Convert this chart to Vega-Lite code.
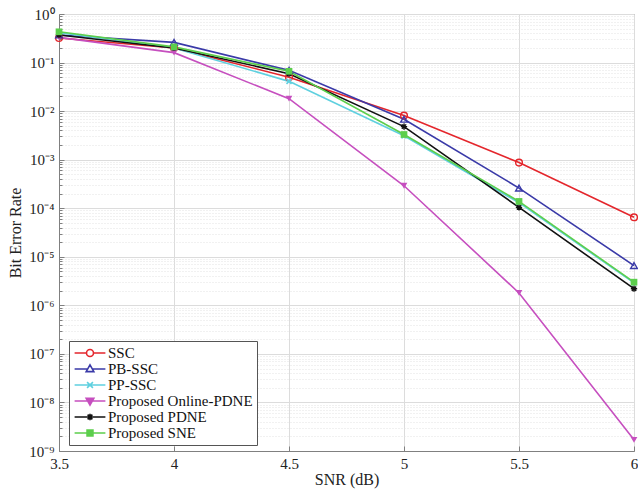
{
  "$schema": "https://vega.github.io/schema/vega-lite/v6.json",
  "autosize": "none",
  "width": 575,
  "height": 437,
  "padding": {"left": 59, "top": 14, "right": 4, "bottom": 38},
  "background": "white",
  "config": {
    "font": "Liberation Serif",
    "view": {"stroke": "#808080", "strokeWidth": 1},
    "axis": {"labelFont": "Liberation Serif", "titleFont": "Liberation Serif", "labelColor": "#222", "titleColor": "#222", "domainColor": "#808080", "tickColor": "#808080", "labelFontSize": 15, "titleFontSize": 16, "titleFontWeight": "normal"},
    "legend": {"labelFont": "Liberation Serif", "labelFontSize": 15}
  },
  "data": {"values": [
    {"snr": 3.5, "ber": 0.32, "series": "SSC"},
    {"snr": 4.0, "ber": 0.2, "series": "SSC"},
    {"snr": 4.5, "ber": 0.05, "series": "SSC"},
    {"snr": 5.0, "ber": 0.0081, "series": "SSC"},
    {"snr": 5.5, "ber": 0.00087, "series": "SSC"},
    {"snr": 6.0, "ber": 0.000065, "series": "SSC"},
    {"snr": 3.5, "ber": 0.37, "series": "PB-SSC"},
    {"snr": 4.0, "ber": 0.26, "series": "PB-SSC"},
    {"snr": 4.5, "ber": 0.069, "series": "PB-SSC"},
    {"snr": 5.0, "ber": 0.0068, "series": "PB-SSC"},
    {"snr": 5.5, "ber": 0.00026, "series": "PB-SSC"},
    {"snr": 6.0, "ber": 0.0000066, "series": "PB-SSC"},
    {"snr": 3.5, "ber": 0.41, "series": "PP-SSC"},
    {"snr": 4.0, "ber": 0.2, "series": "PP-SSC"},
    {"snr": 4.5, "ber": 0.041, "series": "PP-SSC"},
    {"snr": 5.0, "ber": 0.0031, "series": "PP-SSC"},
    {"snr": 5.5, "ber": 0.00013, "series": "PP-SSC"},
    {"snr": 6.0, "ber": 0.0000029, "series": "PP-SSC"},
    {"snr": 3.5, "ber": 0.33, "series": "Proposed Online-PDNE"},
    {"snr": 4.0, "ber": 0.16, "series": "Proposed Online-PDNE"},
    {"snr": 4.5, "ber": 0.018, "series": "Proposed Online-PDNE"},
    {"snr": 5.0, "ber": 0.00029, "series": "Proposed Online-PDNE"},
    {"snr": 5.5, "ber": 0.0000018, "series": "Proposed Online-PDNE"},
    {"snr": 6.0, "ber": 0.0000000017, "series": "Proposed Online-PDNE"},
    {"snr": 3.5, "ber": 0.37, "series": "Proposed PDNE"},
    {"snr": 4.0, "ber": 0.2, "series": "Proposed PDNE"},
    {"snr": 4.5, "ber": 0.059, "series": "Proposed PDNE"},
    {"snr": 5.0, "ber": 0.0048, "series": "Proposed PDNE"},
    {"snr": 5.5, "ber": 0.000104, "series": "Proposed PDNE"},
    {"snr": 6.0, "ber": 0.0000022, "series": "Proposed PDNE"},
    {"snr": 3.5, "ber": 0.43, "series": "Proposed SNE"},
    {"snr": 4.0, "ber": 0.21, "series": "Proposed SNE"},
    {"snr": 4.5, "ber": 0.066, "series": "Proposed SNE"},
    {"snr": 5.0, "ber": 0.0033, "series": "Proposed SNE"},
    {"snr": 5.5, "ber": 0.000138, "series": "Proposed SNE"},
    {"snr": 6.0, "ber": 0.000003, "series": "Proposed SNE"}
  ]},
  "encoding": {
    "x": {"field": "snr", "type": "quantitative", "title": "SNR (dB)",
      "scale": {"domain": [3.5, 6], "nice": false, "zero": false},
      "axis": {"values": [3.5, 4, 4.5, 5, 5.5, 6], "format": "~g", "gridColor": "#dcdcdc", "gridWidth": 1, "tickSize": -5, "labelPadding": 10, "titlePadding": 0, "labelFlush": false}},
    "y": {"field": "ber", "type": "quantitative", "title": "Bit Error Rate",
      "scale": {"type": "log", "domain": [1e-9, 1], "nice": false},
      "axis": {
        "values": [1e-9,2e-9,3e-9,4e-9,5e-9,6e-9,7e-9,8e-9,9e-9,1e-8,2e-8,3e-8,4e-8,5e-8,6e-8,7e-8,8e-8,9e-8,1e-7,2e-7,3e-7,4e-7,5e-7,6e-7,7e-7,8e-7,9e-7,1e-6,2e-6,3e-6,4e-6,5e-6,6e-6,7e-6,8e-6,9e-6,1e-5,2e-5,3e-5,4e-5,5e-5,6e-5,7e-5,8e-5,9e-5,1e-4,2e-4,3e-4,4e-4,5e-4,6e-4,7e-4,8e-4,9e-4,1e-3,2e-3,3e-3,4e-3,5e-3,6e-3,7e-3,8e-3,9e-3,1e-2,2e-2,3e-2,4e-2,5e-2,6e-2,7e-2,8e-2,9e-2,0.1,0.2,0.3,0.4,0.5,0.6,0.7,0.8,0.9,1],
        "labelExpr": "abs(log(datum.value)/LN10 - round(log(datum.value)/LN10)) < 0.001 ? '10' + ['⁰','⁻¹','⁻²','⁻³','⁻⁴','⁻⁵','⁻⁶','⁻⁷','⁻⁸','⁻⁹'][round(-log(datum.value)/LN10)] : ''",
        "gridColor": {"condition": {"test": "abs(log(datum.value)/LN10 - round(log(datum.value)/LN10)) < 0.001", "value": "#dcdcdc"}, "value": "#e2e2e2"},
        "gridDash": {"condition": {"test": "abs(log(datum.value)/LN10 - round(log(datum.value)/LN10)) < 0.001", "value": []}, "value": [1, 2]},
        "tickSize": {"condition": {"test": "abs(log(datum.value)/LN10 - round(log(datum.value)/LN10)) < 0.001", "value": -5}, "value": -3},
        "labelOverlap": false, "labelPadding": 10, "titlePadding": 5, "labelFlush": false}},
    "color": {"field": "series", "type": "nominal", "title": null,
      "scale": {"domain": ["SSC", "PB-SSC", "PP-SSC", "Proposed Online-PDNE", "Proposed PDNE", "Proposed SNE"],
        "range": ["#e4262c", "#3a3aa8", "#5fd0df", "#c64fbf", "#111111", "#5cce4c"]},
      "legend": {"orient": "none", "legendX": 10, "legendY": 327, "fillColor": "white", "strokeColor": "#555", "padding": 4, "labelFontSize": 15, "labelFont": "Liberation Serif", "labelColor": "#111", "symbolSize": 196, "rowPadding": -1.5, "labelLimit": 300, "symbolStrokeWidth": 1.6, "symbolOffset": 9, "labelOffset": 10,
        "encode": {
          "labels": {"update": {"fontSize": {"value": 15}, "font": {"value": "Liberation Serif"}}},
          "symbols": {"update": {
          "shape": {"signal": "datum.value === 'SSC' ? 'M-2.2,0H-0.5M0.5,0H2.2M-0.5,0A0.5,0.5 0 1,0 0.5,0A0.5,0.5 0 1,0 -0.5,0' : datum.value === 'PB-SSC' ? 'M-2.2,0H-0.33M0.33,0H2.2M0,-0.6L0.55,0.38L-0.55,0.38Z' : datum.value === 'PP-SSC' ? 'M-2.2,0H2.2M-0.42,-0.42L0.42,0.42M-0.42,0.42L0.42,-0.42' : datum.value === 'Proposed Online-PDNE' ? 'M-2.2,0H2.2M0,0.6L0.55,-0.38L-0.55,-0.38Z' : datum.value === 'Proposed PDNE' ? 'M-2.2,0H2.2M-0.48,0H0.48M0,-0.48V0.48M-0.34,-0.34L0.34,0.34M-0.34,0.34L0.34,-0.34' : 'M-2.2,0H2.2M-0.42,-0.42H0.42V0.42H-0.42Z'"},
          "fillOpacity": {"signal": "datum.value === 'SSC' || datum.value === 'PB-SSC' ? 0 : 1"},
          "stroke": {"signal": "scale('color', datum.value)"},
          "strokeWidth": {"value": 1.6},
          "opacity": {"value": 1}
        }}}}}
  },
  "layer": [
    {"mark": {"type": "line", "strokeWidth": 1.6}},
    {"transform": [{"filter": "datum.series === 'SSC'"}],
     "mark": {"type": "point", "shape": "circle", "filled": false, "size": 45, "strokeWidth": 1.4, "opacity": 1}},
    {"transform": [{"filter": "datum.series === 'PB-SSC'"}],
     "mark": {"type": "point", "shape": "triangle-up", "filled": false, "size": 45, "strokeWidth": 1.4, "opacity": 1}},
    {"transform": [{"filter": "datum.series === 'PP-SSC'"}],
     "mark": {"type": "point", "shape": "M-0.8,-0.8L0.8,0.8M-0.8,0.8L0.8,-0.8", "filled": false, "size": 40, "strokeWidth": 1.6, "opacity": 1}},
    {"transform": [{"filter": "datum.series === 'Proposed Online-PDNE'"}],
     "mark": {"type": "point", "shape": "triangle-down", "filled": true, "size": 45, "opacity": 1}},
    {"transform": [{"filter": "datum.series === 'Proposed PDNE'"}],
     "mark": {"type": "point", "shape": "M-1,0H1M0,-1V1M-0.7,-0.7L0.7,0.7M-0.7,0.7L0.7,-0.7", "filled": false, "size": 40, "strokeWidth": 1.4, "opacity": 1}},
    {"transform": [{"filter": "datum.series === 'Proposed SNE'"}],
     "mark": {"type": "point", "shape": "square", "filled": true, "size": 45, "opacity": 1}}
  ]
}
